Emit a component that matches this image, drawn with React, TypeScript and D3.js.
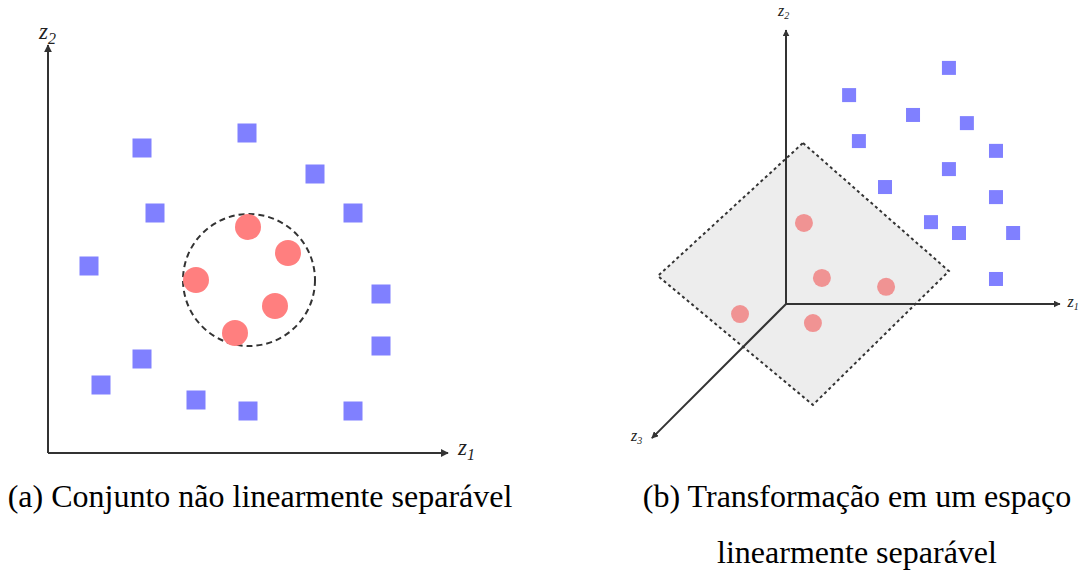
import * as d3 from "d3";

// left panel (a): points in the z1/z2 plane
const leftSquares: [number, number][] = [
  [23.5, 76.25], [49.75, 80], [66.75, 69.75], [26.75, 60], [76.25, 60],
  [10.25, 46.75], [83.25, 39.75], [83.25, 26.75], [23.5, 23.5], [13.25, 17],
  [37, 13.25], [50, 10.5], [76.25, 10.5],
];
const leftCircles: [number, number][] = [
  [50, 56.5], [60, 50], [37, 43.25], [56.75, 36.75], [46.75, 30],
];
const leftBoundary = { cx: 50.25, cy: 43.25, r: 16.5 };

// right panel (b): projected coordinates of the 3D space
const rightSquares: [number, number][] = [
  [59.9, 86.8], [23.2, 76.8], [46.7, 69.5], [66.5, 66.5], [26.8, 59.9],
  [77.2, 56.3], [59.9, 49.6], [36.4, 43.0], [77.2, 39.3], [53.3, 30.1],
  [63.6, 26.1], [83.5, 26.1], [77.2, 9.2],
];
const rightCircles: [number, number][] = [
  [6.6, 29.8], [13.2, 9.6], [36.8, 6.3], [-16.9, -3.7], [9.9, -7.0],
];
const plane: [number, number][] = [
  [6.25, 59.2], [59.9, 12.1], [9.9, -37.1], [-47.1, 10.3],
];
const axes3d: { name: string; sub: string; end: [number, number] }[] = [
  { name: "z", sub: "1", end: [100.7, 0] },
  { name: "z", sub: "2", end: [0, 100.7] },
  { name: "z", sub: "3", end: [-49.3, -49.3] },
];

const captionA = "(a) Conjunto não linearmente separável";
const captionB = ["(b) Transformação em um espaço", "linearmente separável"];

const W = 1083;
const H = 572;
const serif = "'Liberation Serif', 'Times New Roman', Times, serif";

export default function App() {
  const xL = d3.scaleLinear().domain([0, 100]).range([48, 448]);
  const yL = d3.scaleLinear().domain([0, 100]).range([453, 53]);
  const xR = d3.scaleLinear().domain([0, 100]).range([786, 1058]);
  const yR = d3.scaleLinear().domain([0, 100]).range([304, 32]);

  const sqL = 19;
  const sqR = 14;
  const axisColor = "#333";
  const planeLine = d3.line<[number, number]>()
    .x((d) => xR(d[0]))
    .y((d) => yR(d[1]))
    .curve(d3.curveLinearClosed);

  return (
    <svg
      width={W}
      height={H}
      style={{ position: "absolute", left: 0, top: 0, background: "#fff" }}
    >
      <defs>
        <marker id="arrL" viewBox="0 0 10 10" refX="9" refY="5" markerWidth="4" markerHeight="4" orient="auto">
          <path d="M0,0 L10,5 L0,10 Z" fill={axisColor} />
        </marker>
        <marker id="arrR" viewBox="0 0 10 10" refX="9" refY="5" markerWidth="3.5" markerHeight="3.5" orient="auto">
          <path d="M0,0 L10,5 L0,10 Z" fill={axisColor} />
        </marker>
      </defs>

      {/* panel (a) */}
      <g>
        <line x1={xL(0)} y1={yL(0)} x2={xL(0)} y2={yL(102)} stroke={axisColor} strokeWidth={2} markerEnd="url(#arrL)" />
        <line x1={xL(0)} y1={yL(0)} x2={xL(100)} y2={yL(0)} stroke={axisColor} strokeWidth={2} markerEnd="url(#arrL)" />
        <text x={xL(0) - 9} y={yL(103.5)} fontFamily={serif} fontStyle="italic" fontSize={23} fill="#222">
          z<tspan fontSize={16} dy={5}>2</tspan>
        </text>
        <text x={xL(102.5)} y={yL(0) + 2} fontFamily={serif} fontStyle="italic" fontSize={23} fill="#222">
          z<tspan fontSize={16} dy={5}>1</tspan>
        </text>
        <circle
          cx={xL(leftBoundary.cx)}
          cy={yL(leftBoundary.cy)}
          r={xL(leftBoundary.r) - xL(0)}
          fill="none"
          stroke="#333"
          strokeWidth={2}
          strokeDasharray="6,4"
        />
        {leftSquares.map((d, i) => (
          <rect key={i} x={xL(d[0]) - sqL / 2} y={yL(d[1]) - sqL / 2} width={sqL} height={sqL} fill="#8080ff" />
        ))}
        {leftCircles.map((d, i) => (
          <circle key={i} cx={xL(d[0])} cy={yL(d[1])} r={13} fill="#ff7f7f" />
        ))}
      </g>

      {/* panel (b) */}
      <g>
        <path d={planeLine(plane) ?? ""} fill="#ededed" stroke="#333" strokeWidth={2} strokeDasharray="3,3" />
        {axes3d.map((a, i) => (
          <line key={i} x1={xR(0)} y1={yR(0)} x2={xR(a.end[0])} y2={yR(a.end[1])} stroke={axisColor} strokeWidth={2} markerEnd="url(#arrR)" />
        ))}
        <text x={xR(0) - 8} y={yR(106)} fontFamily={serif} fontStyle="italic" fontSize={16} fill="#222">
          z<tspan fontSize={10} dy={3}>2</tspan>
        </text>
        <text x={xR(103.5)} y={yR(0) + 3} fontFamily={serif} fontStyle="italic" fontSize={16} fill="#222">
          z<tspan fontSize={10} dy={3}>1</tspan>
        </text>
        <text x={xR(-57)} y={yR(-49.3) + 3} fontFamily={serif} fontStyle="italic" fontSize={16} fill="#222">
          z<tspan fontSize={10} dy={3}>3</tspan>
        </text>
        {rightSquares.map((d, i) => (
          <rect key={i} x={xR(d[0]) - sqR / 2} y={yR(d[1]) - sqR / 2} width={sqR} height={sqR} fill="#8080ff" />
        ))}
        {rightCircles.map((d, i) => (
          <circle key={i} cx={xR(d[0])} cy={yR(d[1])} r={9} fill="#f09393" />
        ))}
      </g>

      {/* captions */}
      <g fontFamily={serif} fontSize={32} fill="#000" textAnchor="middle">
        <text x={260} y={507}>{captionA}</text>
        <text x={857} y={507}>{captionB[0]}</text>
        <text x={857} y={563}>{captionB[1]}</text>
      </g>
    </svg>
  );
}
